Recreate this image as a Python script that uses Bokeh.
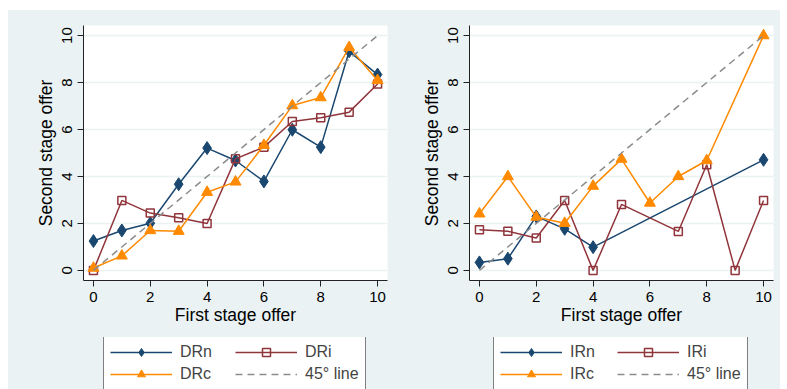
from bokeh.plotting import figure
from bokeh.models import Legend, LegendItem, Spacer, FixedTicker
from bokeh.layouts import row, column
from bokeh.embed import file_html
from bokeh.resources import INLINE

# ---------------- data ----------------
x_dr = [0, 1, 2, 3, 4, 5, 6, 7, 8, 9, 10]
dr_n = [1.25, 1.70, 2.01, 3.67, 5.21, 4.68, 3.79, 5.99, 5.25, 9.33, 8.34]
dr_i = [0.00, 2.98, 2.44, 2.24, 2.00, 4.75, 5.25, 6.34, 6.50, 6.74, 7.94]
dr_c = [0.10, 0.62, 1.70, 1.67, 3.33, 3.77, 5.33, 7.02, 7.36, 9.50, 8.09]

x_ir_n = [0, 1, 2, 3, 4, 10]
ir_n = [0.34, 0.50, 2.30, 1.77, 0.99, 4.71]
x_ir_i = [0, 1, 2, 3, 4, 5, 7, 8, 9, 10]
ir_i = [1.73, 1.67, 1.38, 2.98, 0.00, 2.81, 1.66, 4.50, 0.00, 2.98]
x_ir_c = [0, 1, 2, 3, 4, 5, 6, 7, 8, 10]
ir_c = [2.41, 4.00, 2.27, 2.01, 3.59, 4.74, 2.87, 4.00, 4.68, 10.00]

diag = [0, 10]
ticks = [0, 2, 4, 6, 8, 10]

x_title = "First stage offer"
y_title = "Second stage offer"
labels_dr = ["DRn", "DRi", "DRc", "45° line"]
labels_ir = ["IRn", "IRi", "IRc", "45° line"]

# ---------------- style ----------------
BG = "#EAF2F3"
NAVY = "#1A476F"
MAROON = "#90353B"
ORANGE = "#FF8A00"
GRAY = "#8C8C8C"
FONT = "Liberation Sans"

STYLES = [
    dict(line=dict(line_color=NAVY, line_width=1.5),
         marker=dict(marker="diamond", size=13, fill_color=NAVY, line_color=NAVY)),
    dict(line=dict(line_color=MAROON, line_width=1.5),
         marker=dict(marker="square", size=8, fill_color=None, line_color=MAROON, line_width=1.5)),
    dict(line=dict(line_color=ORANGE, line_width=1.5),
         marker=dict(marker="triangle", size=11, fill_color=ORANGE, line_color=ORANGE)),
]
DIAG_STYLE = dict(line_color=GRAY, line_width=1.5, line_dash="7 5")


def panel(series):
    p = figure(width=386, height=327, frame_width=304, frame_height=255,
               x_range=(-0.35, 10.35), y_range=(-0.43, 10.43),
               output_backend="svg", toolbar_location=None,
               min_border_left=75, min_border_right=7,
               min_border_top=15, min_border_bottom=57,
               background_fill_color="white", border_fill_color=BG,
               outline_line_color=None)
    p.xgrid.visible = False
    p.ygrid.grid_line_color = BG
    p.ygrid.grid_line_width = 1.5
    for ax in (p.xaxis[0], p.yaxis[0]):
        ax.ticker = FixedTicker(ticks=ticks)
        ax.axis_line_color = "#222222"
        ax.major_tick_line_color = "#222222"
        ax.major_tick_out = 6
        ax.major_tick_in = 0
        ax.minor_tick_line_color = None
        ax.major_label_text_font = FONT
        ax.major_label_text_font_size = "15px"
        ax.major_label_text_color = "black"
        ax.axis_label_text_font = FONT
        ax.axis_label_text_font_size = "17.5px"
        ax.axis_label_text_font_style = "normal"
        ax.axis_label_text_color = "black"
    p.xaxis.axis_label = x_title
    p.yaxis.axis_label = y_title
    p.yaxis.major_label_orientation = "vertical"
    p.xaxis.major_label_standoff = 5
    p.xaxis.axis_label_standoff = 0
    p.yaxis.major_label_standoff = 5
    p.yaxis.axis_label_standoff = 4

    for (xs, ys), st in zip(series, STYLES):
        p.line(xs, ys, **st["line"])
        p.scatter(xs, ys, **st["marker"])
    p.line(diag, diag, **DIAG_STYLE)
    return p


def legend_box(series, labels, dx, lab_w):
    # strip under the plot carrying the (bottom-cropped) legend box;
    # its ranges lie far from the data so the carrier glyphs stay off-frame
    f = figure(width=386, height=52, x_range=(-40, -39), y_range=(-40, -39),
               x_axis_type=None, y_axis_type=None,
               output_backend="svg", toolbar_location=None, min_border=0,
               background_fill_color=BG, border_fill_color=BG,
               outline_line_color=None)
    f.xgrid.visible = False
    f.ygrid.visible = False
    made = []
    for (xs, ys), lab, st in zip(series, labels[:3], STYLES):
        l = f.line(xs, ys, **st["line"])
        m = f.scatter(xs, ys, **st["marker"])
        made.append(LegendItem(label=lab, renderers=[l, m]))
    d = f.line(diag, diag, **DIAG_STYLE)
    made.append(LegendItem(label=labels[3], renderers=[d]))
    # legend fills column by column: (n, c) | (i, 45° line)
    items = [made[0], made[2], made[1], made[3]]
    leg = Legend(items=items, ncols=2, location=(dx, -2),
                 label_text_font=FONT, label_text_font_size="16px",
                 glyph_width=62, glyph_height=20, label_standoff=8,
                 label_width=lab_w,
                 spacing=2, padding=6, margin=0,
                 border_line_color="black", border_line_width=1,
                 background_fill_color="white", background_fill_alpha=1)
    f.add_layout(leg, "center")
    return f


s_dr = [(x_dr, dr_n), (x_dr, dr_i), (x_dr, dr_c)]
s_ir = [(x_ir_n, ir_n), (x_ir_i, ir_i), (x_ir_c, ir_c)]
p1 = panel(s_dr)
p2 = panel(s_ir)
g1 = legend_box(s_dr, labels_dr, 20, 53)
g2 = legend_box(s_ir, labels_ir, 24, 45)

inner = row(column(p1, g1), column(p2, g2), styles={"background-color": BG})
layout = column(Spacer(height=10, width=10), row(Spacer(width=8, height=10), inner))
open("out.html", "w").write(file_html(layout, INLINE))
